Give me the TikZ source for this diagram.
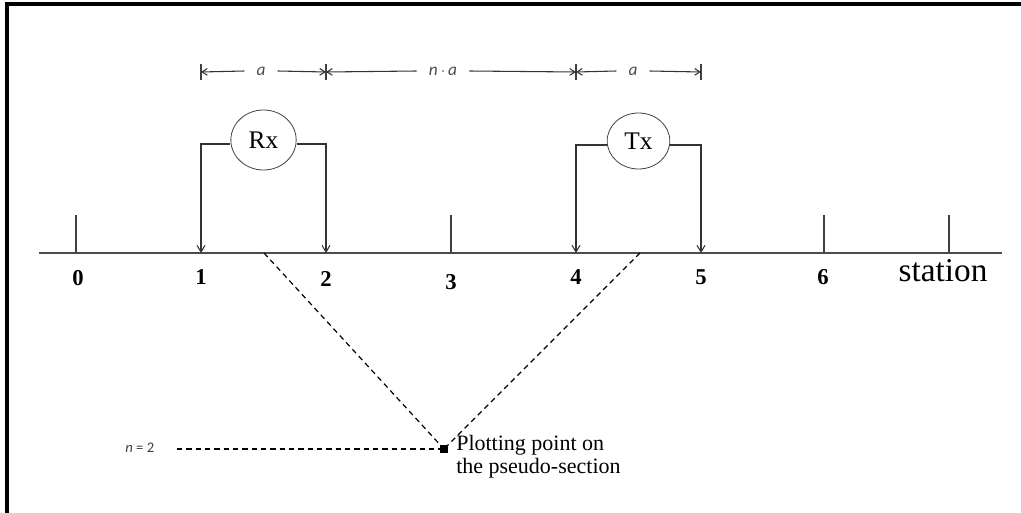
\documentclass[tikz,border=0pt]{standalone}
\usepackage{fontspec}
\setmainfont{Liberation Serif}
\newfontfamily\carl{Carlito}
\usetikzlibrary{arrows.meta,shapes.geometric}
\begin{document}
\begin{tikzpicture}[x=0.75pt,y=-0.75pt,
  axisline/.style={draw=black!70,line width=1.6pt},
  tickline/.style={draw=black!75,line width=0.8pt},
  wire/.style={draw=black!80,line width=0.8pt},
  probe/.style={wire,-{Straight Barb[length=5pt,width=6pt]}},
  dimarrow/.style={draw=black!80,line width=0.8pt,-{Straight Barb[length=4pt,width=5pt]}},
  dimlabel/.style={font=\carl\itshape\fontsize{13}{15}\selectfont,text=black!70,inner ysep=0pt,inner xsep=9pt},
  meter/.style={ellipse,draw=black!75,line width=0.6pt,font=\fontsize{19}{21}\selectfont,inner sep=1pt},
  stationnum/.style={font=\bfseries\fontsize{17}{19}\selectfont},
  guide/.style={draw=black,line width=0.9pt,dash pattern=on 4pt off 3pt}]
\useasboundingbox (0,0) rectangle (1021,513);
% partial frame: top and left edges
\draw[line width=2.4pt] (7,513) -- (7,4) -- (1021,4);

% stations along the surface line
\foreach \i/\x in {0/76,1/201,2/326,3/451,4/576,5/701,6/824,7/949}
  \coordinate (s\i) at (\x,253);
\coordinate (axL) at (39,253);
\coordinate (axR) at (1002,253);
\draw[axisline] (axL) -- (axR);
\foreach \i in {0,3,6,7}
  \draw[tickline] (s\i) -- ++(0,-38);

% station labels
\node[stationnum] (n0) at (78,278) {0};
\node[stationnum] (n1) at (201,277) {1};
\node[stationnum] (n2) at (326,279) {2};
\node[stationnum] (n3) at (451,282) {3};
\node[stationnum] (n4) at (576,277) {4};
\node[stationnum] (n5) at (701,277) {5};
\node[stationnum] (n6) at (823,277) {6};
\node[font=\fontsize{25}{27}\selectfont] (stlabel) at (943,271) {station};

% receiver and transmitter
\node[meter,minimum width=49pt,minimum height=45pt] (rx) at (263.5,140) {Rx};
\node[meter,minimum width=47pt,minimum height=42pt] (tx) at (638.5,141) {Tx};
\coordinate (rxw) at ([yshift=-3pt]rx.west);
\coordinate (rxe) at ([yshift=-3pt]rx.east);
\coordinate (txw) at ([yshift=-3pt]tx.west);
\coordinate (txe) at ([yshift=-3pt]tx.east);
\draw[probe] (rxw) -| (s1);
\draw[probe] (rxe) -| (s2);
\draw[probe] (txw) -| (s4);
\draw[probe] (txe) -| (s5);

% spacing dimensions
\foreach \i/\x in {1/201,2/326,3/576,4/701}{
  \coordinate (d\i) at (\x,72);
  \draw[tickline] (\x,64) -- (\x,80);
}
\node[dimlabel] (da1) at (261,71) {a};
\node[dimlabel] (dna) at (443,71) {n\,$\cdot$\,a};
\node[dimlabel] (da2) at (633,71) {a};
\draw[dimarrow] (da1.west) -- (d1);
\draw[dimarrow] (da1.east) -- (d2);
\draw[dimarrow] (dna.west) -- (d2);
\draw[dimarrow] (dna.east) -- (d3);
\draw[dimarrow] (da2.west) -- (d3);
\draw[dimarrow] (da2.east) -- (d4);

% pseudo-section plotting point
\coordinate (rxmid) at (264,253);
\coordinate (txmid) at (640,253);
\node[fill=black,inner sep=0pt,minimum size=6pt] (pp) at (444,449) {};
\draw[guide] (rxmid) -- (pp.center);
\draw[guide] (txmid) -- (pp.center);
\node[font=\carl\fontsize{11}{13}\selectfont,text=black!75,anchor=east] (nlev) at (159,448) {\textit{n} = 2};
\coordinate (lvl) at (177,449);
\draw[guide] (lvl) -- (pp.west);
\node[anchor=north west,align=left,inner sep=0pt,font=\fontsize{16.5}{17}\selectfont] (ptext) at (456,435) {Plotting point on\\the pseudo-section};
\end{tikzpicture}
\end{document}
